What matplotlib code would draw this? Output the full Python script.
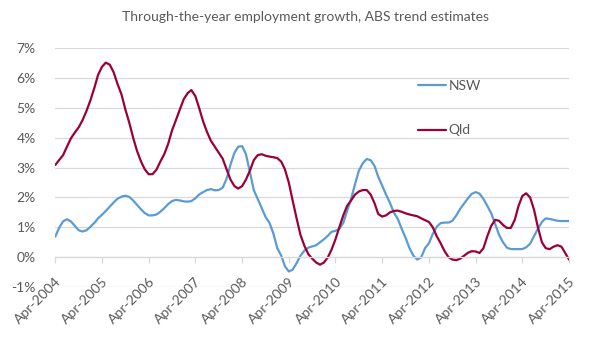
import matplotlib
matplotlib.use("Agg")
import matplotlib.pyplot as plt
import matplotlib.dates as mdates
from matplotlib.transforms import ScaledTranslation
import pandas as pd

title = "Through-the-year employment growth, ABS trend estimates"
start_month = "2004-04-01"
tick_years = list(range(2004, 2016))

nsw = [0.69, 0.98, 1.2, 1.27, 1.2, 1.05, 0.9, 0.86, 0.9, 1.02,
       1.15, 1.3, 1.42, 1.55, 1.69, 1.83, 1.96, 2.03, 2.06, 2.02,
       1.9, 1.75, 1.6, 1.48, 1.4, 1.4, 1.43, 1.52, 1.64, 1.78,
       1.88, 1.92, 1.9, 1.87, 1.86, 1.88, 1.97, 2.1, 2.18, 2.25,
       2.28, 2.24, 2.25, 2.33, 2.62, 3.1, 3.5, 3.7, 3.72, 3.45,
       2.85, 2.25, 1.95, 1.65, 1.35, 1.15, 0.8, 0.3, 0.05, -0.3,
       -0.48, -0.42, -0.2, 0.05, 0.22, 0.32, 0.36, 0.4, 0.5, 0.6,
       0.72, 0.85, 0.88, 0.95, 1.15, 1.55, 1.95, 2.45, 2.9, 3.15,
       3.29, 3.25, 3.05, 2.7, 2.4, 2.1, 1.82, 1.5, 1.28, 0.95,
       0.65, 0.3, 0.05, -0.08, 0.0, 0.3, 0.47, 0.78, 1.02, 1.14,
       1.16, 1.16, 1.22, 1.4, 1.62, 1.8, 1.98, 2.12, 2.18, 2.13,
       1.95, 1.72, 1.47, 1.1, 0.75, 0.5, 0.32, 0.27, 0.27, 0.27,
       0.27, 0.33, 0.45, 0.7, 0.95, 1.18, 1.3, 1.28, 1.25, 1.22,
       1.21, 1.21, 1.21]

qld = [3.09, 3.25, 3.42, 3.7, 3.98, 4.18, 4.35, 4.6, 4.9, 5.26,
       5.68, 6.1, 6.38, 6.52, 6.45, 6.2, 5.8, 5.45, 4.95, 4.5,
       4.0, 3.55, 3.2, 2.95, 2.78, 2.78, 2.93, 3.2, 3.45, 3.8,
       4.25, 4.6, 4.95, 5.3, 5.5, 5.6, 5.4, 5.0, 4.55, 4.2,
       3.9, 3.7, 3.5, 3.3, 2.95, 2.6, 2.38, 2.3, 2.38, 2.6,
       2.9, 3.25, 3.42, 3.45, 3.4, 3.37, 3.35, 3.32, 3.2, 2.95,
       2.5, 1.9, 1.3, 0.75, 0.38, 0.1, -0.05, -0.18, -0.25, -0.18,
       0.0, 0.25, 0.6, 1.0, 1.4, 1.72, 1.9, 2.1, 2.2, 2.25,
       2.25, 2.1, 1.8, 1.45, 1.36, 1.4, 1.5, 1.55, 1.56, 1.52,
       1.47, 1.43, 1.4, 1.37, 1.3, 1.24, 1.18, 1.0, 0.7, 0.47,
       0.2, 0.0, -0.08, -0.1, -0.05, 0.05, 0.15, 0.2, 0.19, 0.14,
       0.3, 0.7, 1.05, 1.25, 1.22, 1.08, 0.98, 0.98, 1.25, 1.7,
       2.05, 2.14, 2.0, 1.6, 1.0, 0.5, 0.3, 0.27, 0.35, 0.4,
       0.35, 0.15, -0.08]

y_ticks = list(range(-1, 8))

dates = pd.date_range(start_month, periods=len(nsw), freq="MS")

plt.rcParams['font.family'] = ['Lato', 'DejaVu Sans']
txt = "#595959"
grid = "#D9D9D9"

fig = plt.figure(figsize=(5.9, 3.5), dpi=100)
ax = fig.add_axes([0.0937, 0.18, 0.9644 - 0.0937, 0.862 - 0.18])

ax.plot(dates, nsw, color="#5B9BD5", lw=1.6, label="NSW", solid_capstyle="round")
ax.plot(dates, qld, color="#9B0036", lw=1.6, label="Qld", solid_capstyle="round")

ax.set_ylim(-1, 7)
ax.set_yticks(y_ticks)
ax.set_yticklabels([f"{v}%" for v in y_ticks])
ax.set_xlim(dates[0], dates[-1])
tick_dates = [pd.Timestamp(f"{y}-04-01") for y in tick_years]
ax.set_xticks(tick_dates)
ax.set_xticklabels([f"Apr-{y}" for y in tick_years])

ax.grid(axis="y", color=grid, lw=0.9)
ax.set_axisbelow(True)
for s in ["left", "right", "top"]:
    ax.spines[s].set_visible(False)
ax.spines["bottom"].set_position(("data", 0))
ax.spines["bottom"].set_color(grid)
ax.spines["bottom"].set_linewidth(0.9)

ax.tick_params(axis="y", length=0, pad=14, labelsize=10, labelcolor=txt)
ax.tick_params(axis="x", length=4, width=0.9, color=grid, direction="out",
               pad=12, labelsize=10, labelcolor=txt)
off = ScaledTranslation(4 / 100, 0, fig.dpi_scale_trans)
for lab in ax.get_xticklabels():
    lab.set_rotation(45)
    lab.set_ha("right")
    lab.set_va("center")
    lab.set_rotation_mode("anchor")
    lab.set_transform(lab.get_transform() + off)
for lab in ax.get_yticklabels():
    lab.set_ha("right")

fig.text(0.517, 1 - 17 / 350, title, ha="center", va="center",
         fontsize=10, color=txt)

leg = ax.legend(loc="upper left", bbox_to_anchor=(418 / 590, 1 - 80 / 350),
                bbox_transform=fig.transFigure, frameon=False, fontsize=10,
                handlelength=2.0, handletextpad=0.2, labelspacing=2.33,
                borderpad=0, borderaxespad=0)
for t in leg.get_texts():
    t.set_color(txt)

fig.savefig("out.png", dpi=100)
